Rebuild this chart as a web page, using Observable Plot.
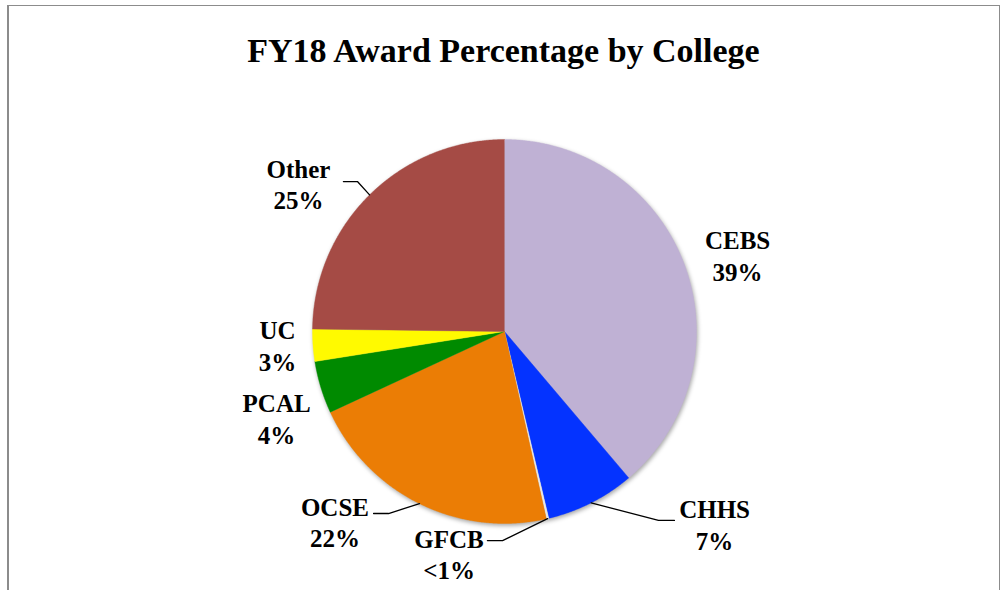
<!DOCTYPE html>
<html>
<head>
<meta charset="utf-8">
<script src="https://cdn.jsdelivr.net/npm/d3@7"></script>
<script src="https://cdn.jsdelivr.net/npm/@observablehq/plot@0.6"></script>
<style>
  html, body { margin: 0; padding: 0; background: #fff; width: 1000px; height: 590px; overflow: hidden; }
  #frame { position: absolute; left: 7px; top: 5px; width: 990px; height: 620px;
           border-left: 2px solid #8c8c8c; border-top: 1px solid #8c8c8c; border-right: 1px solid #8c8c8c; }
  #title { position: absolute; left: 0; width: 1007px; top: 34px; text-align: center;
           font-family: "Liberation Serif", serif; font-weight: bold; font-size: 34px; line-height: 34px; color: #000; }
  #chart { position: absolute; left: 0; top: 0; }
</style>
</head>
<body>
<div id="frame"></div>
<div id="title">FY18 Award Percentage by College</div>
<div id="chart"></div>
<script>
// ---- data ----
const colleges = ["CEBS", "CHHS", "GFCB", "OCSE", "PCAL", "UC", "Other"];
const shares = [38.8, 7.5, 0.2, 21.6, 4.4, 2.7, 24.8];
const pctLabels = ["39%", "7%", "<1%", "22%", "4%", "3%", "25%"];
const sliceColors = ["#BFB1D4", "#0433FF", "#E8E8E8", "#EB7D05", "#008A00", "#FFFA00", "#A54B45"];

// ---- label layout (in pie-radius units) ----
const labelX = [1.214, 1.094, -0.289, -0.883, -1.187, -1.182, -1.073];
const labelY = [0.400, -1.002, -1.156, -0.990, -0.451, -0.071, 0.771];
// leader lines: [college, elbowX, elbowY, endX, endY]
const leaders = [
  ["CHHS", 0.802, -0.984, 0.885, -0.984],
  ["GFCB", -0.010, -1.089, -0.089, -1.089],
  ["OCSE", -0.604, -0.948, -0.682, -0.948],
  ["Other", -0.766, 0.781, -0.839, 0.781]
];

const data = colleges.map((c, i) => ({college: c, value: shares[i], pct: pctLabels[i], color: sliceColors[i]}));
const arcs = d3.pie().sort(null).value(d => d.value)(data);

// slice outlines (center + arc points), angle measured clockwise from 12 o'clock
const slicePts = [];
arcs.forEach(a => {
  const n = Math.max(2, Math.ceil((a.endAngle - a.startAngle) / 0.005));
  slicePts.push({college: a.data.college, color: a.data.color, x: 0, y: 0});
  for (let k = 0; k <= n; k++) {
    const t = a.startAngle + (a.endAngle - a.startAngle) * k / n;
    slicePts.push({college: a.data.college, color: a.data.color, x: Math.sin(t), y: Math.cos(t)});
  }
});

const leaderPts = [];
leaders.forEach(([c, ex, ey, tx, ty]) => {
  const a = arcs.find(d => d.data.college === c);
  const m = (a.startAngle + a.endAngle) / 2;
  leaderPts.push({college: c, x: Math.sin(m), y: Math.cos(m)});
  leaderPts.push({college: c, x: ex, y: ey});
  leaderPts.push({college: c, x: tx, y: ty});
});

const labels = data.map((d, i) => ({text: d.college + "\n" + d.pct, x: labelX[i], y: labelY[i]}));

const plot = Plot.plot({
  width: 1000,
  height: 590,
  margin: 0,
  x: {domain: [-1, 1], range: [312, 696], axis: null},
  y: {domain: [-1, 1], range: [523, 139], axis: null},
  color: {type: "identity"},
  marks: [
    Plot.line(slicePts, {x: "x", y: "y", z: "college", fill: "color", stroke: "color", strokeWidth: 0.4, curve: "linear"}),
    Plot.line(leaderPts, {x: "x", y: "y", z: "college", stroke: "#000", strokeWidth: 1.3}),
    Plot.text(labels, {x: "x", y: "y", text: "text", fontFamily: "Liberation Serif", fontWeight: "bold",
      fontSize: 25, lineHeight: 1.26, lineAnchor: "middle", textAnchor: "middle", fill: "#000"})
  ]
});
d3.select(plot).style("overflow", "visible");
d3.select(plot).select("g[aria-label='line']").style("filter", "drop-shadow(1px 2px 2px rgba(0,0,0,0.35))");
document.getElementById("chart").appendChild(plot);
</script>
</body>
</html>
